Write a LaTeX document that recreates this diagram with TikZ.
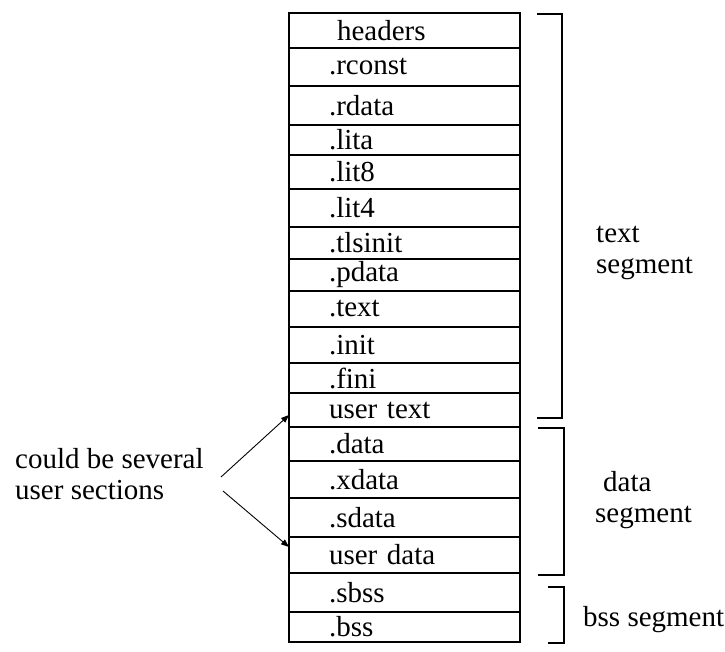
\documentclass[tikz,border=0pt]{standalone}
\usepackage{fontspec}
\setmainfont{Liberation Serif}
\usetikzlibrary{arrows.meta, positioning}

\begin{document}
\begin{tikzpicture}[x=1pt, y=-1pt,
    font=\fontsize{29pt}{31pt}\selectfont,
    section/.style={draw=black, line width=1.3pt, outer sep=0pt, inner xsep=40pt, inner ysep=0pt,
      text width=151pt, align=left, minimum width=231pt},
    brace/.style={line width=1.3pt},
    pointer/.style={-{Triangle[length=8pt, width=6pt]}, line width=0.9pt},
    note/.style={align=left, inner sep=0pt}
  ]
  \useasboundingbox (0,0) rectangle (725,652);

  % section table
  \node[section, minimum height=35pt, anchor=north west] (headers) at (289,13) {\hspace*{8pt}headers};
  \node[section, minimum height=38pt, below=0pt of headers] (rconst) {.rconst};
  \node[section, minimum height=39pt, below=0pt of rconst] (rdata) {.rdata};
  \node[section, minimum height=30pt, below=0pt of rdata] (lita) {.lita};
  \node[section, minimum height=34pt, below=0pt of lita] (liteight) {.lit8};
  \node[section, minimum height=38pt, below=0pt of liteight] (litfour) {.lit4};
  \node[section, minimum height=32pt, below=0pt of litfour] (tlsinit) {.tlsinit};
  \node[section, minimum height=32pt, below=0pt of tlsinit] (pdata) {.pdata};
  \node[section, minimum height=36pt, below=0pt of pdata] (text) {.text};
  \node[section, minimum height=36pt, below=0pt of text] (init) {.init};
  \node[section, minimum height=30pt, below=0pt of init] (fini) {.fini};
  \node[section, minimum height=34pt, below=0pt of fini] (utext) {user text};
  \node[section, minimum height=34pt, below=0pt of utext] (data) {.data};
  \node[section, minimum height=37pt, below=0pt of data] (xdata) {.xdata};
  \node[section, minimum height=39pt, below=0pt of xdata] (sdata) {.sdata};
  \node[section, minimum height=36pt, below=0pt of sdata] (udata) {user data};
  \node[section, minimum height=39pt, below=0pt of udata] (sbss) {.sbss};
  \node[section, minimum height=30pt, below=0pt of sbss] (bss) {.bss};
  \draw[line width=2.4pt] (headers.north west) rectangle (bss.south east);

  % segment brackets
  \draw[brace] (537,14) -| (562,418) -- (537,418);
  \draw[brace] (538,428) -| (564,575) -- (538,575);
  \draw[brace] (548,587) -| (564,643) -- (548,643);
  \node[note, anchor=west] (textseg) at (596,253) {text\\segment};
  \node[note, anchor=west] (dataseg) at (595,500) {\hspace*{8pt}data\\segment};
  \node[note, anchor=west] (bssseg) at (583,620) {bss segment};

  % user sections note
  \node[note, anchor=west] (usernote) at (15,474) {could be several\\user sections};
  \coordinate (pointUp) at (221,477);
  \coordinate (pointDown) at (223,491);
  \draw[pointer] (pointUp) -- ([yshift=-5pt]utext.west);
  \draw[pointer] (pointDown) -- ([yshift=8pt]udata.west);
\end{tikzpicture}
\end{document}
